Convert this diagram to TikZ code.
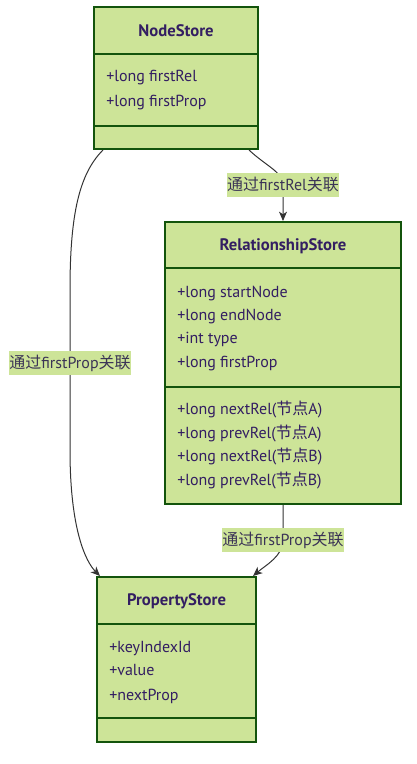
\documentclass[tikz,border=0pt]{standalone}
\usepackage{fontspec}
\usepackage{tikz}
\setmainfont{PT Sans}
\newfontfamily\cjk{Noto Sans CJK SC}
\usetikzlibrary{calc,arrows.meta}
\definecolor{classfill}{HTML}{CDE498}
\definecolor{classline}{HTML}{13540C}
\definecolor{classtext}{HTML}{331E62}
\definecolor{linktext}{HTML}{3B3456}
\newcommand{\px}{0.75pt}
\newcommand{\zh}[1]{{\cjk #1}}

\begin{document}
\begin{tikzpicture}[x=\px,y=\px,
		every node/.style={font=\fontsize{12}{14.4}\selectfont},
		classbox/.style={draw=classline, fill=classfill, line width=2*\px, inner sep=0},
		divider/.style={draw=classline, line width=1.5*\px},
		classtitle/.style={anchor=base, font=\fontsize{12.5}{15}\selectfont\bfseries, text=classtext, inner sep=0},
		member/.style={anchor=base west, text=classtext, inner sep=0},
		link/.style={draw=black!80, line width=1*\px, -{Stealth[length=7pt,width=6pt,inset=2pt]}},
		linklabel/.style={fill=classfill, text=linktext, inner sep=0, minimum height=24*\px}]
		\useasboundingbox (0,0) rectangle (417,-764);
		
		\node (nodestore) [classbox, minimum width=164*\px, minimum height=142*\px] at (176,-78) {};
		\draw[divider] (94,-54)--(258,-54);
		\draw[divider] (94,-126)--(258,-126);
		\node (nodestore-name) [classtitle] at (176,-36) {NodeStore};
		\node (nodestore-a1) [member] at (106,-81) {+long firstRel};
		\node (nodestore-a2) [member] at (106,-106) {+long firstProp};
		
		\node (relstore) [classbox, minimum width=236*\px, minimum height=282*\px] at (283,-363) {};
		\draw[divider] (165,-268)--(401,-268);
		\draw[divider] (165,-387)--(401,-387);
		\node (relstore-name) [classtitle] at (283,-250) {RelationshipStore};
		\node (relstore-a1) [member] at (177,-297) {+long startNode};
		\node (relstore-a2) [member] at (177,-320) {+long endNode};
		\node (relstore-a3) [member] at (177,-343) {+int type};
		\node (relstore-a4) [member] at (177,-367) {+long firstProp};
		\node (relstore-m1) [member] at (177,-414) {+long nextRel(\zh{节点}A)};
		\node (relstore-m2) [member] at (177,-438) {+long prevRel(\zh{节点}A)};
		\node (relstore-m3) [member] at (177,-461) {+long nextRel(\zh{节点}B)};
		\node (relstore-m4) [member] at (177,-485) {+long prevRel(\zh{节点}B)};
		
		\node (propstore) [classbox, minimum width=159*\px, minimum height=165*\px] at (176.5,-659.5) {};
		\draw[divider] (97,-624)--(256,-624);
		\draw[divider] (97,-718)--(256,-718);
		\node (propstore-name) [classtitle] at (176.5,-605) {PropertyStore};
		\node (propstore-a1) [member] at (109,-652) {+keyIndexId};
		\node (propstore-a2) [member] at (109,-675) {+value};
		\node (propstore-a3) [member] at (109,-700) {+nextProp};
		
		\draw[link] ($(nodestore.south east)+(-10,0)$) .. controls (266,-166) and (283,-172) .. (283,-185) node[linklabel] (label-rel) {\zh{通过}firstRel\zh{关联}} -- (relstore.north);
		\draw[link] ($(nodestore.south west)+(10,0)$) .. controls (79,-174) and (70,-215) .. (70,-290) -- (70,-363) node[linklabel] (label-prop1) {\zh{通过}firstProp\zh{关联}} -- (70,-450) .. controls (70,-530) and (86,-562) .. ($(propstore.north west)+(4,0)$);
		\draw[link] (relstore.south) -- (283,-540) node[linklabel] (label-prop2) {\zh{通过}firstProp\zh{关联}} .. controls (283,-556) and (266,-565) .. ($(propstore.north east)+(-4,0)$);
	\end{tikzpicture}
\end{document}
